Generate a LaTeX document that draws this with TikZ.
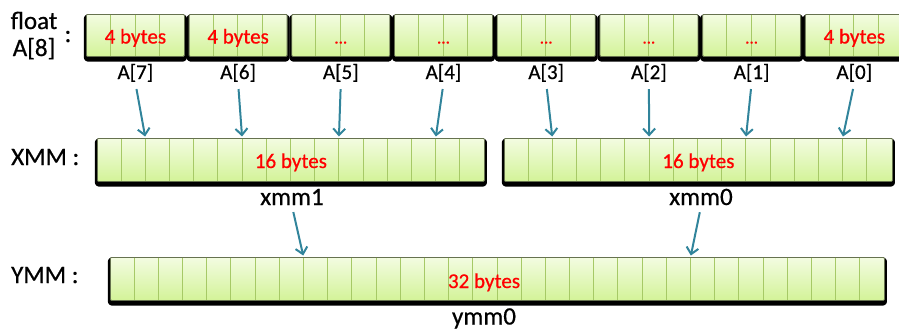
\documentclass[tikz,border=0pt]{standalone}
\usepackage{fontspec}
\setmainfont{Carlito}[FakeBold=0.6]
\usetikzlibrary{arrows.meta,positioning,calc}
\definecolor{cellline}{HTML}{A6C966}
\definecolor{boxedge}{HTML}{66724F}
\definecolor{filltop}{HTML}{F3FCE1}
\definecolor{fillbot}{HTML}{D3F398}
\definecolor{loadteal}{HTML}{31849B}
\tikzset{
  regbox/.style={draw=boxedge, line width=0.8pt, top color=filltop, bottom color=fillbot,
    inner sep=0pt, rounded corners=1pt,
    preaction={draw=black, fill=black, line width=5pt, line join=round,
      transform canvas={yshift=-2.6pt}}},
  cell/.style={draw=cellline, line width=1pt},
  bytes/.style={text=red, font=\fontsize{21}{21}\selectfont, inner sep=1pt},
  elem/.style={font=\fontsize{21}{21}\selectfont, inner sep=1pt},
  regname/.style={font=\fontsize{25}{25}\selectfont, inner sep=1pt},
  load/.style={->, draw=loadteal, line width=2pt},
}
\begin{document}
\begin{tikzpicture}[x=1pt,y=-1pt,>={Straight Barb[length=6.5pt,width=12pt]}]
\useasboundingbox (0,0) rectangle (899,330);
\def\cw{24.5}  % cell width of A[i]
\def\rw{24.19} % cell width of xmm / ymm
% float A[8]
\node[regname,anchor=base] (flt) at (34,29) {float};
\node[regname,anchor=base] (arr) at (34,56) {A[8]};
\node[regname,anchor=base] (colA) at (68,42) {:};
\node[regname,anchor=base west] (xname) at (10,165) {XMM :};
\node[regname,anchor=base west] (yname) at (10,283) {YMM :};
% the eight floats
\foreach \p/\k in {0/7,1/6,2/5,3/4,4/3,5/2,6/1,7/0}{
  \pgfmathsetmacro{\xa}{86+\p*102.7}
  \node[regbox,anchor=north west,minimum width=98pt,minimum height=42pt] (a\k) at (\xa,14) {};
  \foreach \c in {1,2,3}
    \draw[cell] ($(a\k.north west)+(\c*\cw,0.5)$) -- ($(a\k.south west)+(\c*\cw,-0.5)$);
  \node[elem,anchor=base] (l\k) at (a\k.center |- 0,79) {A[\k]};
}
\foreach \k in {7,6,0}
  \node[bytes,anchor=base] (b\k) at (a\k.center |- 0,43.5) {4 bytes};
\foreach \k in {5,4,3,2,1}
  \node[bytes,anchor=base,font=\fontsize{17}{17}\selectfont] (b\k) at (a\k.center |- 0,43.5) {...};
% xmm1, xmm0
\node[regbox,anchor=north west,minimum width=387pt,minimum height=43pt] (x1) at (97,138) {};
\node[regbox,anchor=north west,minimum width=388pt,minimum height=43pt] (x0) at (504,138) {};
\foreach \r in {x1,x0}
  \foreach \c in {1,...,15}
    \draw[cell] ($(\r.north west)+(\c*\rw,0.5)$) -- ($(\r.south west)+(\c*\rw,-0.5)$);
\node[bytes,anchor=base] (s1) at (x1.center |- 0,168) {16 bytes};
\node[bytes,anchor=base] (s0) at (x0.center |- 0,168) {16 bytes};
\node[regname,anchor=base] (n1) at (292,205) {xmm1};
\node[regname,anchor=base] (n0) at (701,205) {xmm0};
% ymm0
\node[regbox,anchor=north west,minimum width=774pt,minimum height=43pt] (y0) at (110,257) {};
\foreach \c in {1,...,31}
  \draw[cell] ($(y0.north west)+(\c*\rw,0.5)$) -- ($(y0.south west)+(\c*\rw,-0.5)$);
\node[bytes,anchor=base] (s2) at (484,288) {32 bytes};
\node[regname,anchor=base] (m0) at (484,324.5) {ymm0};
% targets
\foreach \k/\g in {7/0,6/1,5/2,4/3}
  \coordinate (t\k) at ($(x1.north west)+({(4*\g+2)*\rw},0)$);
\foreach \k/\g in {3/0,2/1,1/2,0/3}
  \coordinate (t\k) at ($(x0.north west)+({(4*\g+2)*\rw},0)$);
\coordinate (u1) at ($(y0.north west)+({8*\rw},0)$);
\coordinate (u0) at ($(y0.north west)+({24*\rw},0)$);
% arrows
\foreach \k in {7,...,0}
  \draw[load,shorten <=6pt,shorten >=1.5pt] (l\k.south) -- (t\k);
\draw[load,shorten <=6pt,shorten >=1.5pt] (n1.south) -- (u1);
\draw[load,shorten <=6pt,shorten >=1.5pt] (n0.south) -- (u0);
\end{tikzpicture}
\end{document}
